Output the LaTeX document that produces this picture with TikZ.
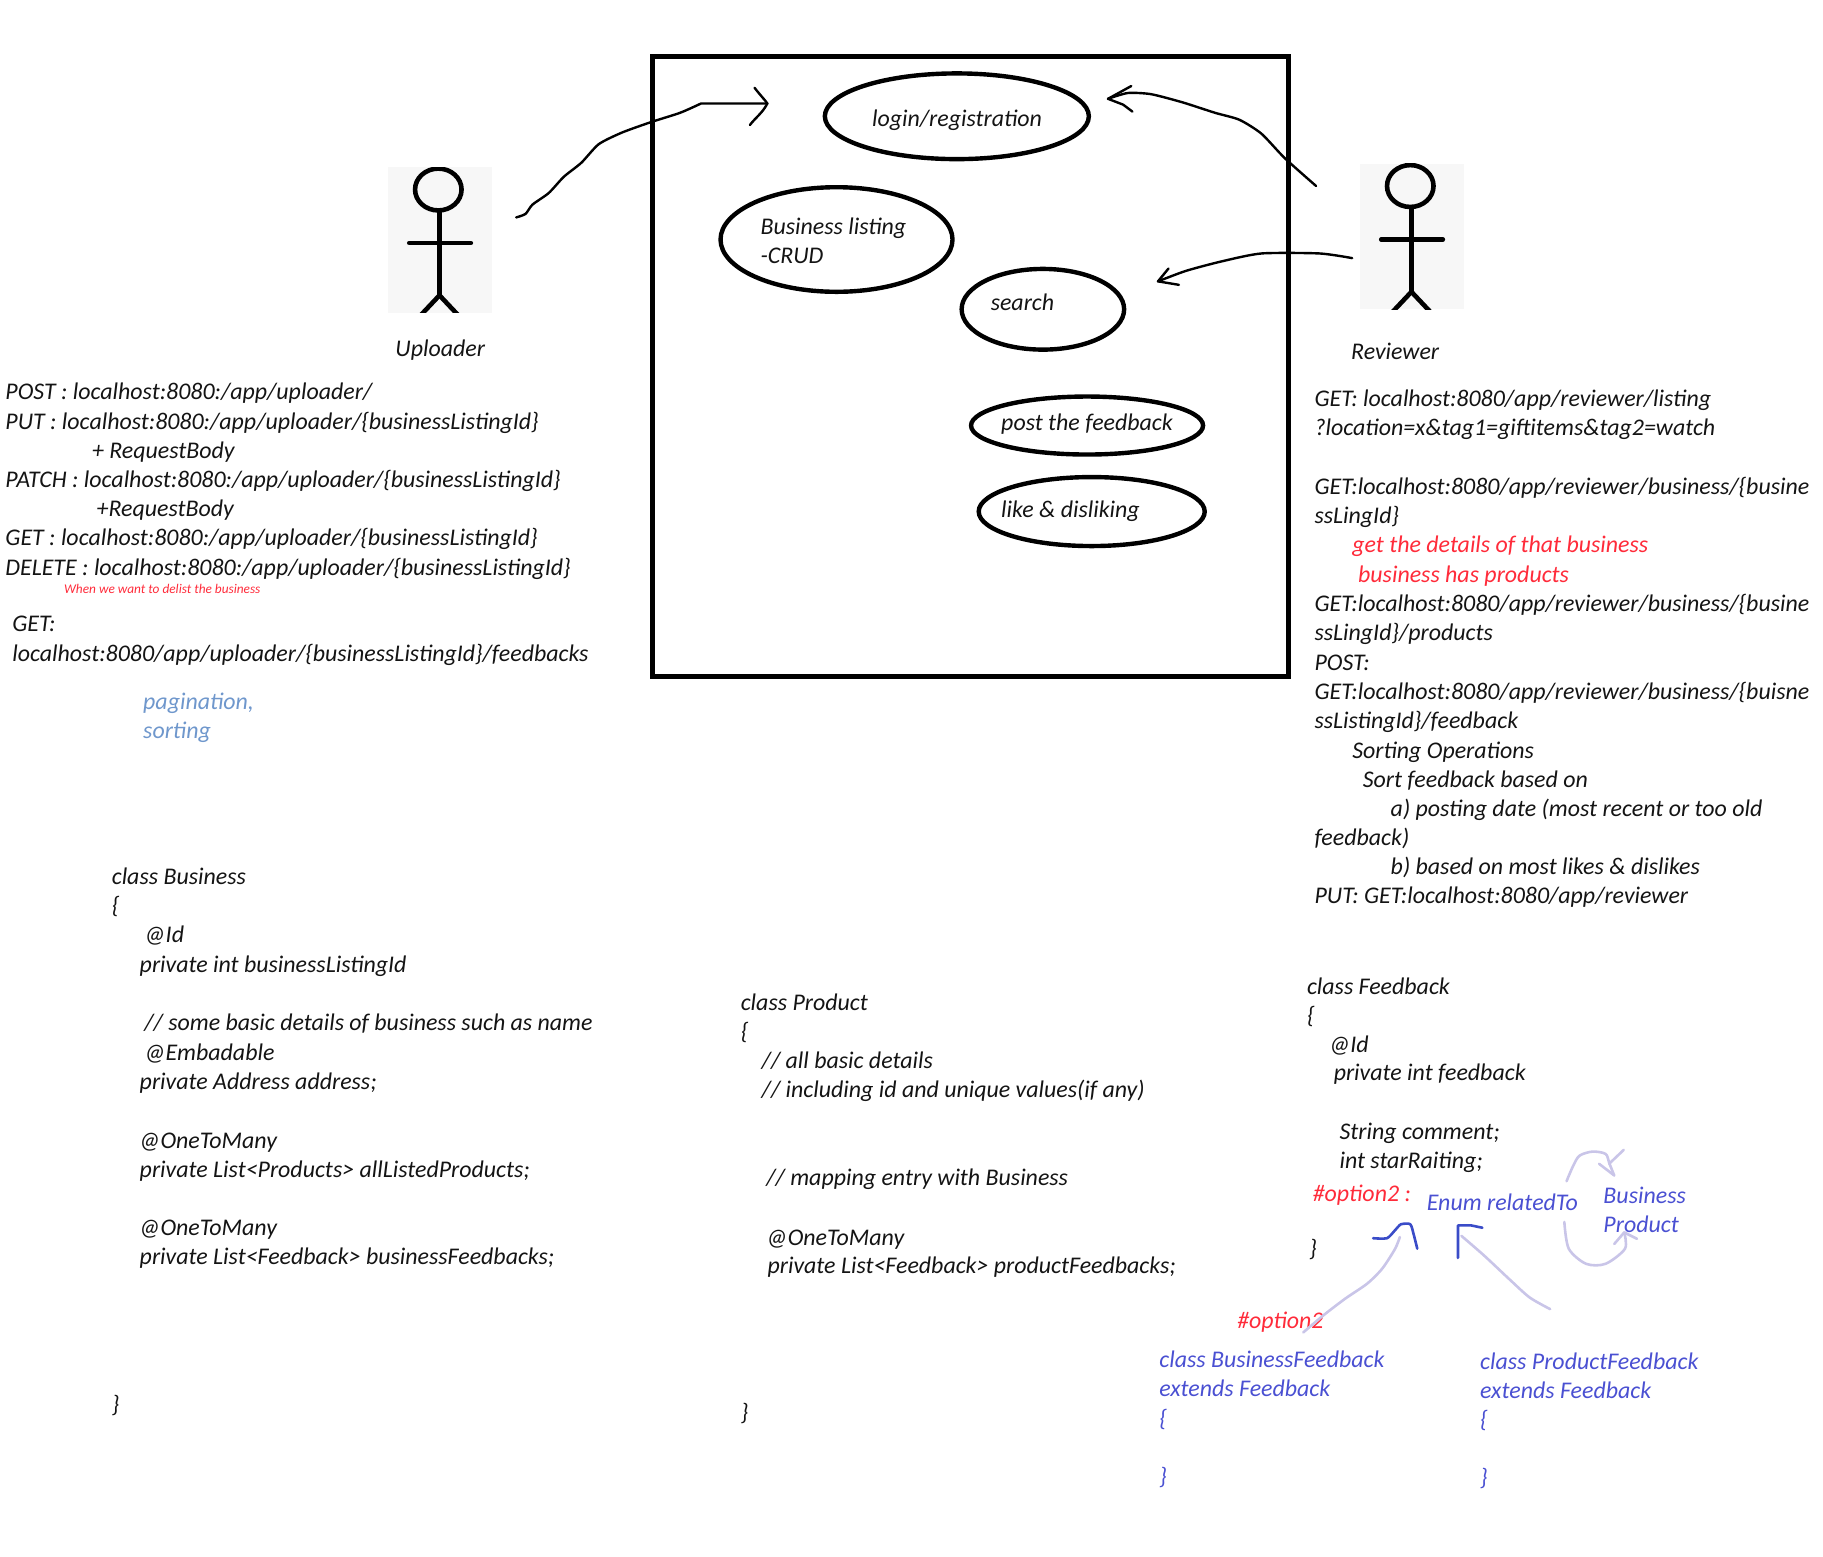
\documentclass[tikz,border=0pt]{standalone}
\usepackage{fontspec}
\setmainfont{Carlito}
\usetikzlibrary{shapes.geometric}
\definecolor{redtxt}{HTML}{FF2B3A}
\definecolor{bluetxt}{HTML}{4A50D2}
\definecolor{softblue}{HTML}{6F97CC}
\definecolor{inkblue}{HTML}{3A4CC8}
\definecolor{lav}{HTML}{C9C5E8}
\definecolor{actorbg}{HTML}{F7F7F7}
\newcommand{\tl}[5][]{\node[txt,#1] (#2) at (#3,#4+7) {#5};}
\tikzset{
  txt/.style={anchor=base west,inner sep=0pt,font=\fontsize{23.9}{29}\selectfont\itshape,text=black!92},
  redt/.style={text=redtxt},
  bluet/.style={text=bluetxt},
  tiny/.style={font=\fontsize{13.3}{16}\selectfont\itshape,text=redtxt},
  usecase/.style={draw=black,ellipse,line width=4.4pt,inner sep=0pt,fill=none},
  hand/.style={draw=black,line width=2.4pt,line cap=round,line join=round},
  ink/.style={draw=inkblue,line width=2.6pt,line cap=round,line join=round},
  lavs/.style={draw=lav,line width=2.6pt,line cap=round,line join=round},
  limb/.style={draw=black,line width=4.6pt},
}
\begin{document}
\begin{tikzpicture}[x=1.1626pt,y=-1.1626pt]
\useasboundingbox (0,0) rectangle (1568,1338.4);
% system box
\node[draw=black,line width=4.8pt,minimum width=636pt,minimum height=620pt,inner sep=0pt,anchor=center] (sys) at (834.6,315.5) {};
% use cases
\node[usecase,minimum width=264pt,minimum height=85.7pt] (uc1) at (823,100) {};
\node[usecase,minimum width=232pt,minimum height=104.6pt] (uc2) at (719.5,206) {};
\node[usecase,minimum width=162.5pt,minimum height=80.7pt] (uc3) at (897,266) {};
\node[usecase,minimum width=232pt,minimum height=58pt] (uc4) at (935,366) {};
\node[usecase,minimum width=226pt,minimum height=69pt] (uc5) at (939,440) {};
\tl{t1}{750}{102}{login/registration}
\tl{t2}{654}{195}{Business listing}
\tl{t3}{654}{220}{-CRUD}
\tl{t4}{852}{260}{search}
\tl{t5}{861}{363}{post the feedback}
\tl{t6}{861}{438}{like \& disliking}
% actors
\node[fill=actorbg,minimum width=103.5pt,minimum height=145.3pt,inner sep=0pt] (actA) at (378.5,206.5) {};
\node[fill=actorbg,minimum width=103.5pt,minimum height=145.3pt,inner sep=0pt] (actB) at (1214.5,203.5) {};
\begin{scope}
\clip (actA.south west) rectangle (actA.north east);
\draw[limb] (377,163) ellipse (20 and 18);
\draw[limb] (378,181) -- (378,254) -- (362,271);
\draw[limb] (378,254) -- (394,271);
\draw[limb,line cap=round] (352,209) -- (405,209);
\end{scope}
\begin{scope}
\clip (actB.south west) rectangle (actB.north east);
\draw[limb] (1213,160) ellipse (20 and 18);
\draw[limb] (1214,178) -- (1214,251) -- (1198,268);
\draw[limb] (1214,251) -- (1230,268);
\draw[limb,line cap=round] (1188,206) -- (1241,206);
\end{scope}
% connectors
\coordinate (upS) at (444,187);
\coordinate (upE) at (660,89);
\coordinate (r1S) at (1132,160);
\coordinate (r1E) at (953,85);
\coordinate (r2S) at (1163,222);
\coordinate (r2E) at (996,242);
\draw[hand] plot[smooth,tension=.4] coordinates {(upS) (452,184) (458,176) (472,166) (485,152) (500,140) (515,124) (535,114) (560,105) (585,97) (603,89)} -- (upE);
\draw[hand] (649,75.5) .. controls (654,82) and (658,86) .. (upE) .. controls (656,97) and (650,101) .. (645,107.5);
\draw[hand] plot[smooth,tension=.4] coordinates {(r1S) (1105,136) (1085,115) (1066,103) (1045,97) (1017,88) (990,81) (970,80) (r1E)};
\draw[hand] (973,74) -- (r1E) -- (966,90) -- (974,96);
\draw[hand] plot[smooth,tension=.4] coordinates {(r2S) (1135,218) (1085,218) (1050,225) (1020,233) (r2E)};
\draw[hand] (1005,231) -- (r2E) -- (1014,245);
% uploader texts
\tl{u0}{340}{300}{Uploader}
\tl{a1}{4.5}{337}{POST : localhost:8080:/app/uploader/}
\tl{a2}{4.5}{362}{PUT : localhost:8080:/app/uploader/\{businessListingId\}}
\tl{a3}{79}{387}{+ RequestBody}
\tl{a4}{4.5}{412}{PATCH : localhost:8080:/app/uploader/\{businessListingId\}}
\tl{a5}{83}{437}{+RequestBody}
\tl{a6}{4.5}{462}{GET : localhost:8080:/app/uploader/\{businessListingId\}}
\tl{a7}{4.5}{488}{DELETE : localhost:8080:/app/uploader/\{businessListingId\}}
\tl[tiny]{a8}{55}{503.5}{When we want to delist the business}
\tl{a9}{10.5}{536}{GET:}
\tl{a10}{10.5}{562}{localhost:8080/app/uploader/\{businessListingId\}/feedbacks}
\tl[text=softblue]{a11}{123}{603.5}{pagination,}
\tl[text=softblue]{a12}{123}{628.5}{sorting}
% reviewer texts
\tl{r0}{1162}{302.5}{Reviewer}
\tl{b1}{1130.5}{343}{GET: localhost:8080/app/reviewer/listing}
\tl{b2}{1130.5}{368}{?location=x\&tag1=giftitems\&tag2=watch}
\tl{b3}{1130.5}{418.5}{GET:localhost:8080/app/reviewer/business/\{busine}
\tl{b4}{1130.5}{443.5}{ssLingId\}}
\tl[redt]{b5}{1163}{468.5}{get the details of that business}
\tl[redt]{b6}{1168}{494}{business has products}
\tl{b7}{1130.5}{519}{GET:localhost:8080/app/reviewer/business/\{busine}
\tl{b8}{1130.5}{544}{ssLingId\}/products}
\tl{b9}{1130.5}{569.5}{POST:}
\tl{b10}{1130.5}{594.5}{GET:localhost:8080/app/reviewer/business/\{buisne}
\tl{b11}{1130.5}{619.5}{ssListingId\}/feedback}
\tl{b12}{1163}{645}{Sorting Operations}
\tl{b13}{1172}{670.5}{Sort feedback based on}
\tl{b14}{1196}{695}{a) posting date (most recent or too old}
\tl{b15}{1130.5}{720.5}{feedback)}
\tl{b16}{1196}{745.5}{b) based on most likes \& dislikes}
\tl{b17}{1130.5}{770.5}{PUT: GET:localhost:8080/app/reviewer}
% class Business
\tl{c1}{96}{754}{class Business}
\tl{c2}{96}{779}{\{}
\tl{c3}{124}{804}{@Id}
\tl{c4}{120}{829.5}{private int businessListingId}
\tl{c5}{124}{879.5}{// some basic details of business such as name}
\tl{c6}{124}{905}{@Embadable}
\tl{c7}{120}{930}{private Address address;}
\tl{c8}{119.5}{981}{@OneToMany}
\tl{c9}{120}{1006}{private List<Products> allListedProducts;}
\tl{c10}{119.5}{1056}{@OneToMany}
\tl{c11}{120}{1081}{private List<Feedback> businessFeedbacks;}
\tl{c12}{96}{1207.5}{\}}
% class Product
\tl{d1}{637}{862}{class Product}
\tl{d2}{637}{887}{\{}
\tl{d3}{655}{912}{// all basic details}
\tl{d4}{655}{937}{// including id and unique values(if any)}
\tl{d5}{659}{1013}{// mapping entry with Business}
\tl{d6}{659}{1064}{@OneToMany}
\tl{d7}{660}{1088.5}{private List<Feedback> productFeedbacks;}
\tl{d8}{637}{1214.5}{\}}
% class Feedback
\tl{e1}{1124}{848}{class Feedback}
\tl{e2}{1124}{873}{\{}
\tl{e3}{1143}{898}{@Id}
\tl{e4}{1147}{922.5}{private int feedback}
\tl{e5}{1152}{973}{String comment;}
\tl{e6}{1152}{998}{int starRaiting;}
\tl[redt]{e7}{1129}{1026}{\#option2 :}
\tl[bluet]{e8}{1227}{1034}{Enum relatedTo}
\tl[bluet]{e9}{1379}{1028}{Business}
\tl[bluet]{e10}{1379}{1053}{Product}
\tl{e11}{1126}{1074}{\}}
\tl[redt]{f0}{1064}{1136}{\#option2}
\tl[bluet]{f1}{997}{1169.5}{class BusinessFeedback}
\tl[bluet]{f2}{997}{1194.5}{extends Feedback}
\tl[bluet]{f3}{997}{1220}{\{}
\tl[bluet]{f4}{997}{1270}{\}}
\tl[bluet]{g1}{1273}{1170.5}{class ProductFeedback}
\tl[bluet]{g2}{1273}{1195.5}{extends Feedback}
\tl[bluet]{g3}{1273}{1221}{\{}
\tl[bluet]{g4}{1273}{1271}{\}}
% sketched inheritance marks
\coordinate (hkS) at (1181,1065);
\coordinate (hkE) at (1219,1074);
\coordinate (crS) at (1254,1082);
\coordinate (crE) at (1275,1056);
\draw[ink] plot[smooth,tension=.4] coordinates {(hkS) (1193,1065) (1200,1058) (1205,1053) (1213,1053) (1216,1062) (hkE)};
\draw[ink] (crS) -- (1254,1054) -- (1265.4,1054) -- (crE);
\coordinate (l1S) at (1121,1146);
\coordinate (l1E) at (1204,1064);
\coordinate (l2S) at (1333.3,1126);
\coordinate (l2E) at (1257,1063);
\coordinate (l3S) at (1347.4,1016);
\coordinate (l3E) at (1388.4,1011);
\coordinate (l4S) at (1345.5,1051);
\coordinate (l4E) at (1397,1060);
\draw[lavs] plot[smooth,tension=.45] coordinates {(l1S) (1138.7,1131) (1157,1117) (1176,1104) (1189,1091) (1200,1074) (l1E)};
\draw[lavs] plot[smooth,tension=.45] coordinates {(l2S) (1315.7,1116) (1299,1101) (1276.6,1080) (l2E)};
\draw[lavs] plot[smooth,tension=.5] coordinates {(l3S) (1353,1003) (1358.6,994) (1369.8,990.5) (1381,992.5) (1384,1000) (l3E)};
\draw[lavs] (1396.6,989) -- (1384,1001);
\draw[lavs] (1375.4,1001) -- (l3E);
\draw[lavs] plot[smooth,tension=.5] coordinates {(l4S) (1349.3,1074) (1364.2,1087) (1381,1087) (1397.7,1074) (l4E)};
\draw[lavs] (1388.4,1070) -- (l4E) -- (1408,1065.5);
\end{tikzpicture}
\end{document}
